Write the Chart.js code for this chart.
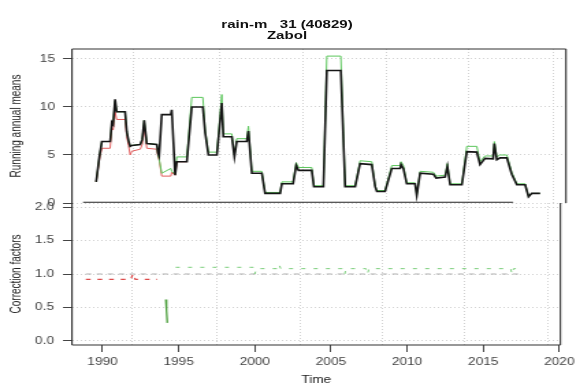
<!DOCTYPE html>
<html>
<head>
<meta charset="utf-8">
<script src="https://cdn.jsdelivr.net/npm/chart.js@4/dist/chart.umd.min.js"></script>
<style>
  body { margin: 0; background: #fff; }
  /* the reference is stretched sideways, so draw narrow and widen it */
  #wrap { position: relative; width: 424px; height: 388px; transform: scaleX(1.368); transform-origin: 0 0; }
  #wrap canvas { position: absolute; left: 0; top: 0; }
  .title { position: absolute; left: 0; width: 419.6px; text-align: center; white-space: pre;
           font: bold 11px "Liberation Sans", Arial, sans-serif; line-height: 11px; color: #111; }
</style>
</head>
<body>
<div id="wrap">
  <div class="title" style="top:19px">rain-m   31 (40829)</div>
  <div class="title" style="top:30px">Zabol</div>
  <canvas id="meansChart" width="424" height="388" style="width:424px;height:388px"></canvas>
  <canvas id="factorChart" width="424" height="388" style="width:424px;height:388px"></canvas>
</div>
<script>
// running annual means (step points)
const years = [
  1989.56, 1989.77, 1989.93, 1990.47, 1990.58, 1990.66, 1990.79, 1990.89, 1991.44, 1991.55,
  1991.66, 1991.77, 1991.88, 1992.42, 1992.55, 1992.68, 1992.85, 1993.50, 1993.58, 1993.65,
  1993.82, 1994.41, 1994.47, 1994.69, 1994.80, 1995.45, 1995.77, 1996.49, 1996.64, 1996.85,
  1997.40, 1997.72, 1997.82, 1998.37, 1998.54, 1998.69, 1999.34, 1999.45, 1999.67, 2000.32,
  2000.53, 2001.51, 2001.62, 2002.35, 2002.55, 2002.70, 2003.56, 2003.70, 2004.32, 2004.54,
  2005.45, 2005.73, 2006.38, 2006.70, 2007.46, 2007.68, 2007.79, 2008.32, 2008.76, 2009.30,
  2009.36, 2009.51, 2009.73, 2010.27, 2010.38, 2010.60, 2011.46, 2011.64, 2012.22, 2012.37,
  2012.55, 2013.31, 2013.63, 2014.28, 2014.49, 2014.81, 2015.34, 2015.42, 2015.58, 2015.79,
  2016.23, 2016.55, 2016.88, 2017.42, 2017.64, 2017.85, 2018.39
];
const blackMeans = [
  2.2, 4.8, 6.4, 6.4, 8.4, 8.2, 10.8, 9.5, 9.5, 7.4,
  6.5, 5.9, 6.0, 6.1, 6.6, 8.6, 6.2, 6.1, 5.2, 4.9,
  9.2, 9.2, 9.7, 2.9, 4.3, 4.3, 10.0, 10.0, 7.3, 5.0,
  5.0, 10.4, 6.9, 6.9, 4.8, 6.4, 6.4, 7.5, 3.1, 3.1,
  1.0, 1.0, 2.0, 2.0, 3.9, 3.4, 3.4, 1.7, 1.7, 13.8,
  13.8, 1.7, 1.7, 4.1, 4.0, 1.7, 1.2, 1.2, 3.6, 3.6,
  4.0, 3.6, 2.0, 2.0, 0.8, 3.1, 3.0, 2.6, 2.7, 3.8,
  1.9, 1.9, 5.35, 5.3, 4.0, 4.65, 4.6, 6.2, 4.5, 4.7,
  4.7, 3.0, 1.9, 1.9, 0.65, 1.0, 1.0
];
const greenMeans = [
  2.2, 4.8, 6.4, 6.4, 8.4, 8.2, 10.6, 9.5, 9.5, 7.4,
  6.5, 5.9, 6.0, 6.1, 6.6, 8.6, 6.2, 6.1, 5.0, 4.6,
  3.1, 3.6, 3.3, 3.0, 4.8, 4.8, 11.0, 11.0, 7.6, 5.3,
  5.3, 11.3, 7.2, 7.2, 5.0, 6.7, 6.7, 8.0, 3.3, 3.3,
  1.1, 1.1, 2.2, 2.2, 4.2, 3.7, 3.7, 1.8, 1.8, 15.3,
  15.3, 1.8, 1.8, 4.4, 4.3, 1.8, 1.3, 1.3, 3.9, 3.9,
  4.3, 3.9, 2.1, 2.1, 0.9, 3.3, 3.2, 2.8, 2.9, 4.1,
  2.0, 2.0, 5.9, 5.9, 4.3, 4.9, 4.9, 6.4, 4.8, 5.0,
  5.0, 3.2, 2.0, 2.0, 0.7, 1.0, 1.0
];
const redMeans = [
  2.2, 4.5, 5.7, 5.7, 7.8, 7.6, 9.5, 8.7, 8.7, 6.9,
  6.0, 5.0, 5.4, 5.6, 6.1, 7.8, 5.7, 5.6, 4.8, 4.5,
  2.8, 2.8, 3.2, 2.9, 4.3, 4.3
];
const baseYears = [1988.71, 2016.64];
const baseMeans = [0.08, 0.08];

// correction factors
const cfRedYears = [1988.9, 1991.85, 1992.0, 1992.15, 1993.6];
const cfRed = [0.92, 0.92, 1.0, 0.92, 0.92];
const cfGreyYears = [1988.9, 2017.4];
const cfGrey = [1.0, 1.0];
const cfGreenYears = [1994.8, 1999.9, 2000.0, 2000.1, 2001.5, 2001.6, 2001.7, 2005.8, 2005.9, 2006.0,
                      2007.3, 2007.4, 2007.5, 2016.8, 2016.9, 2017.0, 2017.3];
const cfGreen = [1.1, 1.1, 1.0, 1.08, 1.08, 1.14, 1.08, 1.08, 1.0, 1.08,
                 1.08, 1.0, 1.08, 1.08, 1.0, 1.08, 1.08];
const cfDropYears = [1994.15, 1994.2, 1994.25];
const cfDrop = [0.62, 0.45, 0.27];

// axes
const xTickYears = [1990, 1995, 2000, 2005, 2010, 2015, 2020];
const gridYears = [1991.96, 1997.55, 2003.0, 2008.39, 2013.78, 2019.23];
const meanTicks = [0, 5, 10, 15];
const factorTicks = [0, 0.5, 1.0, 1.5, 2.0];

const X_MIN = 1987.99, X_MAX = 2020.07;
const FONT = "'Liberation Sans', Arial, sans-serif";

const pts = (xs, ys) => ys.map((y, i) => ({ x: xs[i], y }));
const setTicks = vals => scale => { scale.ticks = vals.map(v => ({ value: v })); };

// R style box around the plot region
const frame = sides => ({
    id: 'frame',
    afterDraw(chart) {
        const { ctx, chartArea: a } = chart;
        ctx.save();
        ctx.strokeStyle = '#333';
        ctx.lineWidth = 1.1;
        ctx.beginPath();
        if (sides.includes('top'))    { ctx.moveTo(a.left, a.top);    ctx.lineTo(a.right, a.top); }
        if (sides.includes('bottom')) { ctx.moveTo(a.left, a.bottom); ctx.lineTo(a.right, a.bottom); }
        if (sides.includes('left'))   { ctx.moveTo(a.left, a.top);    ctx.lineTo(a.left, a.bottom); }
        if (sides.includes('right'))  { ctx.moveTo(a.right, a.top);   ctx.lineTo(a.right, a.bottom); }
        ctx.stroke();
        ctx.restore();
    }
});

const gridAxis = {
    type: 'linear', min: X_MIN, max: X_MAX, position: 'bottom',
    afterBuildTicks: setTicks(gridYears),
    ticks: { display: false },
    grid: { color: '#d2d2d2', drawTicks: false },
    border: { display: false, dash: [1, 2] },
    afterFit: s => { s.height = 0; }
};

const yAxis = (min, max, ticks, label, fmt, pad) => ({
    min, max,
    afterBuildTicks: setTicks(ticks),
    ticks: { font: { family: FONT, size: 10 }, color: '#444', padding: pad, callback: fmt },
    grid: { color: '#d2d2d2', tickColor: '#444', tickLength: 6.6 },
    border: { display: false, dash: [1, 2] },
    title: { display: true, text: label, font: { family: FONT, size: 10 }, color: '#222',
             padding: { top: 6.4, bottom: 0 } },
    afterFit: s => { s.width = 52.6; }
});

const common = {
    responsive: false,
    animation: false,
    events: [],
    elements: { point: { radius: 0 }, line: { tension: 0, fill: false } },
    plugins: { legend: { display: false }, tooltip: { enabled: false } }
};

new Chart(document.getElementById('meansChart'), {
    type: 'line',
    data: {
        datasets: [
            { data: pts(years, blackMeans), borderColor: '#151515', borderWidth: 1.6 },
            { data: pts(baseYears, baseMeans), borderColor: '#222', borderWidth: 1.2 },
            { data: pts(years, greenMeans), borderColor: '#5cc65c', borderWidth: 1 },
            { data: pts(years, redMeans), borderColor: '#e25c5c', borderWidth: 1 }
        ]
    },
    options: {
        ...common,
        layout: { padding: { top: 49, bottom: 185, left: 0, right: 10.3 } },
        scales: {
            x: gridAxis,
            y: yAxis(0, 16.04, meanTicks, 'Running annual means', v => String(v), 5.8)
        }
    },
    plugins: [frame(['left', 'top', 'right'])]
});

new Chart(document.getElementById('factorChart'), {
    type: 'line',
    data: {
        datasets: [
            { data: pts(cfDropYears, cfDrop), borderColor: '#4a9e3a', borderWidth: 1.3 },
            { data: pts(cfGreenYears, cfGreen), borderColor: '#7acd7a', borderWidth: 1, borderDash: [3, 6] },
            { data: pts(cfRedYears, cfRed), borderColor: '#dd4a4a', borderWidth: 1.2, borderDash: [3.5, 5] },
            { data: pts(cfGreyYears, cfGrey), borderColor: '#b0b0b0', borderWidth: 1, borderDash: [4, 4] }
        ]
    },
    options: {
        ...common,
        layout: { padding: { top: 203, bottom: 0, left: 0, right: 10.3 } },
        scales: {
            x: {
                type: 'linear', min: X_MIN, max: X_MAX, position: 'bottom',
                afterBuildTicks: setTicks(xTickYears),
                ticks: { font: { family: FONT, size: 10 }, color: '#444', padding: 4,
                         autoSkip: false, maxRotation: 0, callback: v => String(v) },
                grid: { drawOnChartArea: false, tickColor: '#444', tickLength: 7 },
                border: { display: false },
                title: { display: true, text: 'Time', font: { family: FONT, size: 10 }, color: '#222',
                         padding: { top: 0, bottom: 2 } },
                afterFit: s => { s.height = 43; }
            },
            xg: gridAxis,
            y: yAxis(-0.06, 2.06, factorTicks, 'Correction factors', v => v.toFixed(1), 6.5)
        }
    },
    plugins: [frame(['left', 'bottom', 'right'])]
});
</script>
</body>
</html>
